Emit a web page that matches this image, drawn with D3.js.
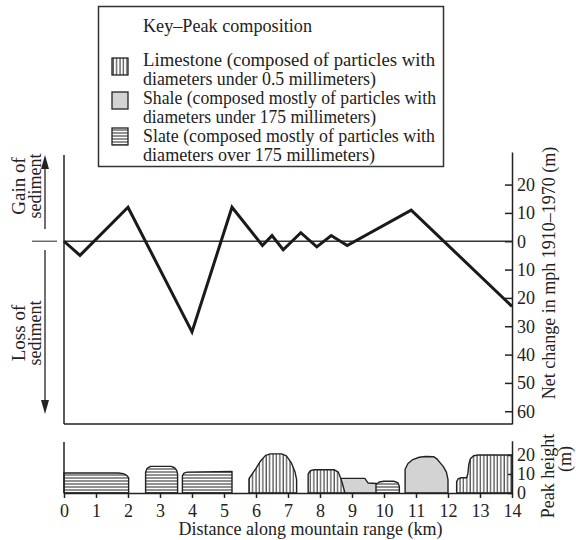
<!DOCTYPE html>
<html><head><meta charset="utf-8">
<script src="https://cdn.jsdelivr.net/npm/d3@7"></script>
<style>
body{margin:0;background:#fff}
svg{display:block}
text{font-family:"Liberation Serif","Times New Roman",serif;fill:#222}
</style>
</head><body>
<svg id="c" width="576" height="540"></svg>
<script>
// ---------- data ----------
const lineKm  = [0, 0.5, 2, 4, 5.25, 6.2, 6.5, 6.85, 7.4, 7.9, 8.35, 8.85, 10.85, 14];
const lineVal = [0, -5, 12, -32, 12, -1.5, 2, -3, 3, -2, 2, -1.5, 11, -23];
const changeTicks = [20, 10, 0, -10, -20, -30, -40, -50, -60];
const heightTicks = [0, 10, 20];
const kmTicks = [0,1,2,3,4,5,6,7,8,9,10,11,12,13,14];

const peakTypes = ["slate","slate","slate","limestone","shale","limestone","slate","shale","limestone"];
const peakOutlines = [
  [[0,0],[0,10.5],[1.7,10.5],[1.85,10.2],[1.95,9.4],[2.02,8],[2.02,0]],
  [[2.55,0],[2.55,11],[2.6,13],[2.7,14],[3.35,14],[3.45,13.3],[3.52,12],[3.55,10],[3.55,0]],
  [[3.7,0],[3.7,9],[3.75,10.5],[3.85,11],[5.25,11.3],[5.25,0]],
  [[5.78,0],[5.78,7.5],[6.0,13],[6.15,17],[6.3,19.8],[6.45,20.6],[6.8,20.6],[6.95,19.5],[7.1,16],[7.22,11],[7.27,7],[7.27,0]],
  [[8.6,0],[8.6,7.7],[9.4,7.7],[9.5,5.3],[9.77,5],[9.77,0]],
  [[7.63,0],[7.63,10],[7.7,11.7],[7.8,12.2],[8.45,12.2],[8.57,11],[8.62,9],[8.7,5],[8.78,0]],
  [[9.75,0],[9.75,4.5],[9.85,5.8],[10.0,6.2],[10.3,6.2],[10.43,5.5],[10.48,3.5],[10.48,0]],
  [[10.66,0],[10.66,12.5],[10.75,15.5],[10.9,17.6],[11.1,18.8],[11.3,19.2],[11.55,19.1],[11.65,18],[11.75,16],[11.85,14],[11.95,11],[12.0,7],[12.0,0]],
  [[12.27,0],[12.27,6],[12.32,7.5],[12.4,8],[12.58,8],[12.62,10],[12.65,15],[12.7,18],[12.8,19.6],[12.95,20],[14,20],[14,0]]
];

const legendTitle = "Key\u2013Peak composition";
const legendTypes = ["limestone","shale","slate"];
const legendLines = [
  ["Limestone (composed of particles with","diameters under 0.5 millimeters)"],
  ["Shale (composed mostly of particles with","diameters under 175 millimeters)"],
  ["Slate (composed mostly of particles with","diameters over 175 millimeters)"]
];
const xTitle = "Distance along mountain range (km)";
const yTopTitle = "Net change in mph 1910\u20131970 (m)";
const yBotTitle = ["Peak height","(m)"];
const gainLabel = ["Gain of","sediment"];
const lossLabel = ["Loss of","sediment"];

(function(){
// ---------- setup ----------
const svg = d3.select("#c");
const INK = "#222";
const FS = 18;

const defs = svg.append("defs");
const pl = defs.append("pattern").attr("id","limestone").attr("patternUnits","userSpaceOnUse")
  .attr("width",3.4).attr("height",10);
pl.append("rect").attr("width",3.4).attr("height",10).attr("fill","#fff");
pl.append("line").attr("x1",1).attr("x2",1).attr("y1",0).attr("y2",10).attr("stroke",INK).attr("stroke-width",1);
const ps = defs.append("pattern").attr("id","slate").attr("patternUnits","userSpaceOnUse")
  .attr("width",10).attr("height",3);
ps.append("rect").attr("width",10).attr("height",3).attr("fill","#fff");
ps.append("line").attr("x1",0).attr("x2",10).attr("y1",1).attr("y2",1).attr("stroke",INK).attr("stroke-width",1);
const fills = {limestone:"url(#limestone)", slate:"url(#slate)", shale:"#d3d3d3"};

const x = d3.scaleLinear().domain([0,14]).range([64,512]);
const yTop = d3.scaleLinear().domain([31.5,-64.5]).range([152,424]);
const yBot = d3.scaleLinear().domain([0,27.5]).range([493,440.75]);

// ---------- legend ----------
const lg = svg.append("g");
lg.append("rect").attr("x",98.5).attr("y",6.5).attr("width",345).attr("height",160)
  .attr("fill","#fff").attr("stroke","#333").attr("stroke-width",1.5);
lg.append("text").attr("x",143).attr("y",31.5).attr("font-size",FS)
  .attr("textLength",169).attr("lengthAdjust","spacingAndGlyphs").text(legendTitle);
const legendBase = [66, 104, 142];
const iconY = [58, 92, 128];
const lineWidths = [[292,233],[293,233],[292,232]];
legendTypes.forEach((t,i)=>{
  lg.append("rect").attr("x",112).attr("y",iconY[i]).attr("width",16).attr("height",17)
    .attr("fill",fills[t]).attr("stroke",INK).attr("stroke-width",1.3);
  legendLines[i].forEach((s,j)=>{
    lg.append("text").attr("x",143).attr("y",legendBase[i]+j*19).attr("font-size",FS)
      .attr("textLength",lineWidths[i][j]).attr("lengthAdjust","spacingAndGlyphs").text(s);
  });
});

// ---------- top chart ----------
const tg = svg.append("g");
tg.append("line").attr("x1",64).attr("x2",64).attr("y1",155).attr("y2",424).attr("stroke",INK).attr("stroke-width",1.5);
tg.append("line").attr("x1",64).attr("x2",512).attr("y1",424).attr("y2",424).attr("stroke",INK).attr("stroke-width",1.5);
tg.append("line").attr("x1",64).attr("x2",512).attr("y1",yTop(0)).attr("y2",yTop(0)).attr("stroke","#333").attr("stroke-width",1.3);
tg.append("line").attr("x1",32).attr("x2",57).attr("y1",yTop(0)).attr("y2",yTop(0)).attr("stroke","#555").attr("stroke-width",1.3);

const ra = tg.append("g").attr("transform","translate(512,0)")
  .call(d3.axisRight(yTop).tickValues(changeTicks).tickFormat(d=>Math.abs(d))
        .tickSizeInner(-7).tickSizeOuter(0).tickPadding(5));
ra.selectAll("path,line").attr("stroke",INK).attr("stroke-width",1.5);
ra.selectAll("text").attr("font-size",FS).attr("font-family","Liberation Serif").attr("fill",INK);

const lineData = lineKm.map((k,i)=>[k,lineVal[i]]);
tg.append("path").datum(lineData)
  .attr("d", d3.line().x(d=>x(d[0])).y(d=>yTop(d[1])))
  .attr("fill","none").attr("stroke","#1a1a1a").attr("stroke-width",3).attr("stroke-linejoin","miter");

// arrows
tg.append("line").attr("x1",45).attr("x2",45).attr("y1",229).attr("y2",166).attr("stroke",INK).attr("stroke-width",1.3);
tg.append("path").attr("d","M45,155 L41,169 L49,169 Z").attr("fill",INK);
tg.append("line").attr("x1",45).attr("x2",45).attr("y1",250).attr("y2",403).attr("stroke",INK).attr("stroke-width",1.3);
tg.append("path").attr("d","M45,414 L41,400 L49,400 Z").attr("fill",INK);

function vtext(g, tx, ty, s, fs){
  g.append("text").attr("transform",`translate(${tx},${ty}) rotate(-90)`)
    .attr("text-anchor","middle").attr("font-size",fs||FS).text(s);
}
vtext(tg,25,186,gainLabel[0],19); vtext(tg,41,186,gainLabel[1]);
vtext(tg,25,333,lossLabel[0],19); vtext(tg,41,333,lossLabel[1]);
vtext(tg,555,273,yTopTitle);

// ---------- bottom panel ----------
const bot = svg.append("g");
const pline = d3.line().x(d=>x(d[0])).y(d=>yBot(d[1]));
peakOutlines.forEach((pts,i)=>{
  bot.append("path").attr("d",pline(pts)+"Z")
    .attr("fill",fills[peakTypes[i]]).attr("stroke",INK).attr("stroke-width",1.4).attr("stroke-linejoin","round");
});
bot.append("line").attr("x1",64).attr("x2",64).attr("y1",442).attr("y2",493).attr("stroke",INK).attr("stroke-width",1.5);
const ba = bot.append("g").attr("transform","translate(0,493)")
  .call(d3.axisBottom(x).tickValues(kmTicks).tickFormat(d=>d).tickSizeInner(5).tickSizeOuter(0).tickPadding(6));
ba.selectAll("path,line").attr("stroke",INK).attr("stroke-width",1.5);
ba.selectAll("text").attr("font-size",FS).attr("font-family","Liberation Serif").attr("fill",INK);
const bra = bot.append("g").attr("transform","translate(512,0)")
  .call(d3.axisRight(yBot).tickValues(heightTicks).tickSizeInner(-4).tickSizeOuter(0).tickPadding(5));
bra.selectAll("path,line").attr("stroke",INK).attr("stroke-width",1.5);
bra.selectAll("text").attr("font-size",FS).attr("font-family","Liberation Serif").attr("fill",INK);

bot.append("text").attr("x",310.5).attr("y",535).attr("text-anchor","middle").attr("font-size",FS).text(xTitle);
vtext(bot,554,476,yBotTitle[0]);
vtext(bot,571,459,yBotTitle[1]);
})();
</script>
</body></html>
